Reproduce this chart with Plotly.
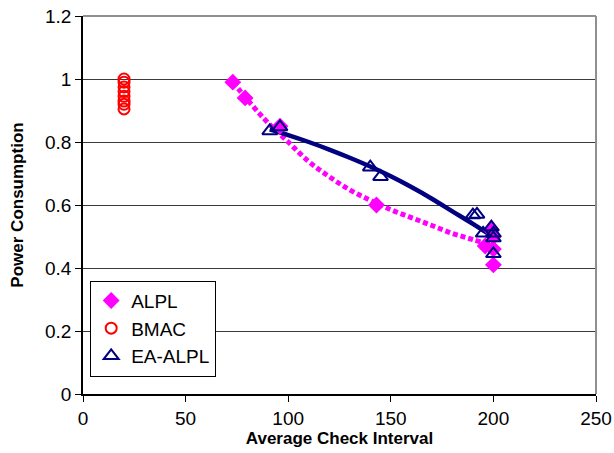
import plotly.graph_objects as go

# ALPL measured points
alpl_x = [73, 79, 96, 143, 196, 199, 200, 200, 200]
alpl_y = [0.99, 0.94, 0.85, 0.60, 0.47, 0.52, 0.50, 0.46, 0.41]
# ALPL trend line
alpl_trend_x = [73, 80, 86, 90, 100, 110, 120, 130, 140, 150, 160, 170, 180, 190, 200]
alpl_trend_y = [0.99, 0.935, 0.89, 0.862, 0.80, 0.738, 0.69, 0.648, 0.615, 0.585, 0.56, 0.535, 0.51, 0.49, 0.47]

# BMAC points
bmac_x = [20, 20, 20, 20, 20, 20, 20, 20]
bmac_y = [1.0, 0.99, 0.975, 0.96, 0.945, 0.93, 0.92, 0.905]

# EA-ALPL points
ea_x = [91, 96, 140, 145, 190, 192, 195, 199, 200, 200, 200]
ea_y = [0.835, 0.848, 0.72, 0.69, 0.568, 0.57, 0.51, 0.53, 0.51, 0.495, 0.445]
# EA-ALPL trend line
ea_trend_x = [91, 100, 110, 120, 130, 140, 150, 160, 170, 180, 190, 200]
ea_trend_y = [0.84, 0.822, 0.80, 0.776, 0.75, 0.722, 0.691, 0.657, 0.62, 0.58, 0.54, 0.498]

x_ticks = [0, 50, 100, 150, 200, 250]
y_ticks = [0, 0.2, 0.4, 0.6, 0.8, 1.0, 1.2]
y_tick_text = ["0", "0.2", "0.4", "0.6", "0.8", "1", "1.2"]

MAGENTA = "#FF00FF"
RED = "#FF0000"
NAVY = "#000080"
FONT = "Arial, Liberation Sans, sans-serif"

fig = go.Figure()

fig.add_trace(go.Scatter(
    x=alpl_trend_x, y=alpl_trend_y, mode="lines", showlegend=False,
    line=dict(color=MAGENTA, width=5, dash="5px,3px", shape="spline", smoothing=1.0),
    hoverinfo="skip"))
fig.add_trace(go.Scatter(
    x=ea_trend_x, y=ea_trend_y, mode="lines", showlegend=False,
    line=dict(color=NAVY, width=4.5, shape="spline", smoothing=1.0), hoverinfo="skip"))

fig.add_trace(go.Scatter(
    x=alpl_x, y=alpl_y, mode="markers", name="ALPL",
    marker=dict(symbol="diamond", size=13, color=MAGENTA, line=dict(width=0))))
fig.add_trace(go.Scatter(
    x=bmac_x, y=bmac_y, mode="markers", name="BMAC",
    marker=dict(symbol="circle-open", size=11, color=RED, line=dict(width=2, color=RED))))
fig.add_trace(go.Scatter(
    x=ea_x, y=ea_y, mode="markers", name="EA-ALPL",
    marker=dict(symbol="triangle-up-open", size=13, color=NAVY, line=dict(width=2, color=NAVY))))

fig.update_layout(
    width=614, height=453,
    margin=dict(l=83, r=18, t=16, b=59, autoexpand=False),
    paper_bgcolor="white", plot_bgcolor="white",
    font=dict(family=FONT, size=19, color="black"),
    showlegend=True,
    legend=dict(
        x=0.014, y=0.30, xanchor="left", yanchor="top",
        bgcolor="white", bordercolor="black", borderwidth=1,
        font=dict(size=19, family=FONT), itemwidth=30,
        tracegroupgap=0, traceorder="normal",
    ),
    xaxis=dict(
        range=[0, 250], tickvals=x_ticks, ticks="outside", ticklen=6,
        tickcolor="black", showgrid=False, zeroline=False, automargin=False,
        showline=True, linecolor="black", linewidth=1.5, mirror=False,
        tickfont=dict(size=19),
        title=dict(text="<b>Average Check Interval</b>", font=dict(size=17), standoff=1),
    ),
    yaxis=dict(
        range=[0, 1.2], tickvals=y_ticks, ticktext=y_tick_text, ticks="outside", ticklen=6,
        tickcolor="black", showgrid=True, gridcolor="#3a3a3a", gridwidth=1,
        zeroline=False, showline=True, linecolor="black", linewidth=1.5, automargin=False,
        tickfont=dict(size=19),
        title=dict(text="<b>Power Consumption</b>", font=dict(size=17), standoff=17),
    ),
)

# gray frame on top and right
fig.add_shape(type="line", xref="paper", yref="paper", x0=0, x1=1, y0=1, y1=1,
              line=dict(color="#909090", width=2))
fig.add_shape(type="line", xref="paper", yref="paper", x0=1, x1=1, y0=0, y1=1,
              line=dict(color="#909090", width=2))

# remove the default page margin so the figure sits at the window's corner
fig.write_html(
    "out.html",
    config={"displayModeBar": False},
    post_script="document.body.style.margin='0';document.body.style.overflow='hidden';",
)
